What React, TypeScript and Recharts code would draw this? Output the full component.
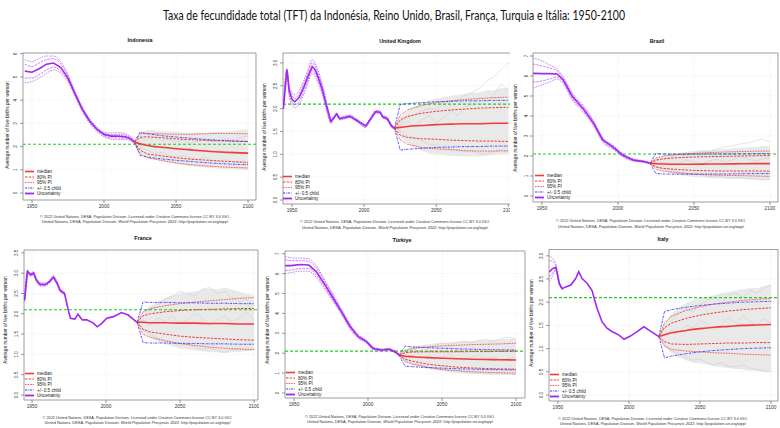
import React from 'react';
import {
  ComposedChart,
  Line,
  Area,
  XAxis,
  YAxis,
  CartesianGrid,
  ReferenceLine,
  ReferenceArea,
  Legend,
} from 'recharts';

// ---- shared axes / years ----
const xTicks = [1950, 2000, 2050, 2100];
const projYears = [2021, 2025, 2030, 2040, 2050, 2060, 2070, 2080, 2090, 2100];
const grayYears = [2021, 2025, 2030, 2035, 2040, 2045, 2050, 2055, 2060, 2065, 2070, 2075, 2080, 2085, 2090, 2095, 2100];
const replacementLevel = 2.1;

const mainTitle =
  'Taxa de fecundidade total (TFT) da Indonésia, Reino Unido, Brasil, França, Turquia e  Itália: 1950-2100';
const yLabel = 'Average number of live births per woman';
const footLine1 =
  '© 2022 United Nations, DESA, Population Division. Licensed under Creative Commons license CC BY 3.0 IGO.';
const footLine2a = 'United Nations, DESA, Population Division. ';
const footLine2b = 'World Population Prospects 2022';
const footLine2c = '. http://population.un.org/wpp/';
const legendLabels = ['median', '80% PI', '95% PI', '+/- 0.5 child', 'Uncertainty'];

// ---- Indonesia ----
const idnHistYears = [1945, 1950, 1955, 1960, 1965, 1970, 1975, 1980, 1985, 1990, 1995, 2000, 2005, 2010, 2015, 2018, 2021];
const idnHistMed = [5.25, 5.2, 5.35, 5.55, 5.6, 5.4, 4.95, 4.25, 3.6, 3.1, 2.75, 2.52, 2.45, 2.45, 2.42, 2.35, 2.2];
const idnBandU95 = [5.75, 5.65, 5.8, 5.9, 5.9, 5.65, 5.1, 4.35, 3.7, 3.2, 2.85, 2.62, 2.58, 2.6, 2.55, 2.45, 2.3];
const idnBandL95 = [4.75, 4.8, 4.95, 5.15, 5.3, 5.15, 4.8, 4.15, 3.5, 3.0, 2.65, 2.42, 2.32, 2.3, 2.3, 2.25, 2.1];
const idnBandU80 = [5.55, 5.45, 5.6, 5.75, 5.78, 5.55, 5.03, 4.3, 3.65, 3.15, 2.8, 2.57, 2.52, 2.53, 2.49, 2.4, 2.25];
const idnBandL80 = [4.95, 4.95, 5.1, 5.3, 5.42, 5.25, 4.87, 4.2, 3.55, 3.05, 2.7, 2.47, 2.38, 2.37, 2.35, 2.3, 2.15];
const idnMed = [2.2, 2.12, 2.05, 1.97, 1.91, 1.86, 1.81, 1.77, 1.74, 1.72];
const idnU80 = [2.2, 2.4, 2.42, 2.38, 2.33, 2.3, 2.27, 2.25, 2.23, 2.22];
const idnL80 = [2.2, 1.85, 1.68, 1.6, 1.52, 1.46, 1.42, 1.38, 1.35, 1.32];
const idnU95 = [2.2, 2.55, 2.57, 2.55, 2.53, 2.53, 2.55, 2.57, 2.56, 2.55];
const idnL95 = [2.2, 1.7, 1.52, 1.4, 1.3, 1.22, 1.17, 1.13, 1.1, 1.08];
const idnHalfUp = [2.2, 2.62, 2.55, 2.47, 2.41, 2.36, 2.31, 2.27, 2.24, 2.22];
const idnHalfLo = [2.2, 1.62, 1.55, 1.47, 1.41, 1.36, 1.31, 1.27, 1.24, 1.22];
const idnCloudLo = [2.2, 1.75, 1.55, 1.45, 1.38, 1.3, 1.25, 1.2, 1.15, 1.12, 1.1, 1.08, 1.05, 1.03, 1.02, 1.0, 1.0];
const idnCloudHi = [2.2, 2.6, 2.7, 2.7, 2.65, 2.65, 2.65, 2.6, 2.6, 2.62, 2.6, 2.62, 2.65, 2.62, 2.68, 2.72, 2.75];
const idnG1 = [2.2, 2.35, 2.3, 2.4, 2.25, 2.3, 2.2, 2.28, 2.15, 2.22, 2.3, 2.2, 2.25, 2.35, 2.28, 2.4, 2.45];
const idnG2 = [2.2, 1.95, 1.85, 1.7, 1.75, 1.6, 1.55, 1.62, 1.5, 1.45, 1.55, 1.42, 1.38, 1.45, 1.3, 1.35, 1.25];
const idnG3 = [2.2, 2.05, 2.1, 1.95, 2.0, 1.9, 1.98, 1.85, 1.9, 1.8, 1.85, 1.75, 1.82, 1.7, 1.78, 1.68, 1.7];

// ---- United Kingdom ----
const gbrHistYears = [1944, 1946.5, 1948, 1950, 1952, 1955, 1958, 1961, 1964, 1966, 1968, 1971, 1974, 1977, 1979, 1981, 1983, 1986, 1990, 1995, 2001, 2004, 2008, 2011, 2013, 2016, 2019, 2021];
const gbrHistMed = [2.0, 2.85, 2.4, 2.2, 2.15, 2.25, 2.45, 2.7, 2.92, 2.85, 2.7, 2.42, 2.05, 1.72, 1.8, 1.88, 1.78, 1.8, 1.83, 1.74, 1.62, 1.75, 1.93, 1.92, 1.82, 1.78, 1.62, 1.57];
const gbrBandU95 = [2.0, 2.88, 2.52, 2.35, 2.3, 2.4, 2.6, 2.85, 3.07, 3.0, 2.84, 2.55, 2.15, 1.76, 1.83, 1.91, 1.81, 1.83, 1.86, 1.77, 1.65, 1.78, 1.96, 1.95, 1.85, 1.81, 1.65, 1.59];
const gbrBandL95 = [2.0, 2.82, 2.28, 2.08, 2.02, 2.1, 2.3, 2.55, 2.78, 2.7, 2.56, 2.3, 1.95, 1.68, 1.77, 1.85, 1.75, 1.77, 1.8, 1.71, 1.59, 1.72, 1.9, 1.89, 1.79, 1.75, 1.59, 1.55];
const gbrBandU80 = [2.0, 2.86, 2.46, 2.28, 2.22, 2.33, 2.53, 2.78, 3.0, 2.93, 2.77, 2.49, 2.1, 1.74, 1.82, 1.9, 1.8, 1.82, 1.85, 1.76, 1.64, 1.77, 1.95, 1.94, 1.84, 1.8, 1.64, 1.58];
const gbrBandL80 = [2.0, 2.84, 2.34, 2.14, 2.08, 2.17, 2.37, 2.62, 2.85, 2.77, 2.63, 2.36, 2.0, 1.7, 1.78, 1.86, 1.76, 1.78, 1.81, 1.72, 1.6, 1.73, 1.91, 1.9, 1.8, 1.76, 1.6, 1.56];
const gbrMed = [1.57, 1.59, 1.61, 1.63, 1.65, 1.66, 1.67, 1.67, 1.68, 1.68];
const gbrU80 = [1.57, 1.75, 1.83, 1.9, 1.94, 1.97, 1.99, 2.01, 2.02, 2.03];
const gbrL80 = [1.57, 1.42, 1.37, 1.34, 1.33, 1.31, 1.3, 1.29, 1.29, 1.28];
const gbrU95 = [1.57, 1.85, 1.97, 2.07, 2.13, 2.17, 2.2, 2.22, 2.24, 2.25];
const gbrL95 = [1.57, 1.32, 1.22, 1.15, 1.12, 1.1, 1.08, 1.07, 1.07, 1.08];
const gbrHalfUp = [1.57, 2.09, 2.11, 2.13, 2.15, 2.16, 2.17, 2.17, 2.18, 2.18];
const gbrHalfLo = [1.57, 1.09, 1.11, 1.13, 1.15, 1.16, 1.17, 1.17, 1.18, 1.18];
const gbrCloudLo = [1.57, 1.4, 1.25, 1.15, 1.08, 1.02, 1.0, 0.98, 0.97, 0.96, 0.95, 0.96, 0.95, 0.97, 0.98, 1.0, 1.0];
const gbrCloudHi = [1.57, 1.8, 1.95, 2.05, 2.12, 2.18, 2.22, 2.25, 2.28, 2.3, 2.32, 2.35, 2.35, 2.4, 2.4, 2.45, 2.45];
const gbrG1 = [1.57, 1.7, 1.8, 1.85, 1.95, 2.0, 1.98, 2.1, 2.15, 2.2, 2.3, 2.35, 2.45, 2.6, 2.7, 2.85, 3.0];
const gbrG2 = [1.57, 1.5, 1.4, 1.35, 1.3, 1.22, 1.2, 1.15, 1.12, 1.1, 1.05, 1.08, 1.02, 1.0, 1.05, 1.1, 1.05];
const gbrG3 = [1.57, 1.65, 1.72, 1.6, 1.75, 1.85, 1.7, 1.8, 1.95, 1.85, 2.05, 2.1, 2.25, 2.15, 2.3, 2.55, 2.4];

// ---- Brazil ----
const braHistYears = [1944, 1950, 1955, 1960, 1964, 1970, 1977, 1984, 1990, 1997, 2003, 2010, 2017, 2021];
const braHistMed = [6.13, 6.12, 6.12, 6.1, 5.8, 4.97, 4.38, 3.63, 2.8, 2.43, 2.05, 1.8, 1.72, 1.64];
const braBandU95 = [6.9, 6.75, 6.55, 6.35, 5.95, 5.15, 4.55, 3.75, 2.92, 2.53, 2.13, 1.86, 1.76, 1.67];
const braBandL95 = [5.4, 5.55, 5.7, 5.85, 5.6, 4.8, 4.2, 3.5, 2.7, 2.33, 1.97, 1.74, 1.68, 1.61];
const braBandU80 = [6.6, 6.5, 6.4, 6.25, 5.88, 5.07, 4.47, 3.7, 2.87, 2.49, 2.1, 1.83, 1.74, 1.66];
const braBandL80 = [5.7, 5.75, 5.85, 5.95, 5.7, 4.87, 4.28, 3.56, 2.74, 2.37, 2.0, 1.77, 1.7, 1.62];
const braMed = [1.64, 1.62, 1.6, 1.59, 1.59, 1.6, 1.6, 1.61, 1.62, 1.62];
const braU80 = [1.64, 1.8, 1.86, 1.92, 1.95, 1.97, 1.98, 2.0, 2.01, 2.02];
const braL80 = [1.64, 1.45, 1.38, 1.32, 1.28, 1.26, 1.25, 1.25, 1.25, 1.24];
const braU95 = [1.64, 1.9, 2.0, 2.08, 2.13, 2.17, 2.2, 2.22, 2.24, 2.25];
const braL95 = [1.64, 1.35, 1.24, 1.16, 1.1, 1.06, 1.03, 1.02, 1.0, 0.98];
const braHalfUp = [1.64, 2.12, 2.1, 2.09, 2.09, 2.1, 2.1, 2.11, 2.12, 2.12];
const braHalfLo = [1.64, 1.12, 1.1, 1.09, 1.09, 1.1, 1.1, 1.11, 1.12, 1.12];
const braCloudLo = [1.64, 1.4, 1.25, 1.15, 1.05, 1.0, 0.95, 0.92, 0.9, 0.88, 0.87, 0.85, 0.85, 0.84, 0.82, 0.8, 0.8];
const braCloudHi = [1.64, 1.9, 2.0, 2.1, 2.15, 2.2, 2.25, 2.28, 2.3, 2.32, 2.35, 2.38, 2.4, 2.42, 2.45, 2.5, 2.5];
const braG1 = [1.64, 1.75, 1.85, 1.95, 2.05, 2.0, 2.15, 2.25, 2.2, 2.35, 2.45, 2.5, 2.6, 2.65, 2.75, 2.85, 2.7];
const braG2 = [1.64, 1.45, 1.35, 1.3, 1.2, 1.15, 1.1, 1.05, 0.98, 1.0, 0.95, 0.9, 0.92, 0.88, 0.85, 0.8, 0.82];
const braG3 = [1.64, 1.6, 1.7, 1.55, 1.65, 1.8, 1.7, 1.6, 1.75, 1.85, 1.7, 1.8, 1.95, 1.9, 1.75, 1.85, 1.9];

// ---- France ----
const fraHistYears = [1945, 1947, 1949, 1951, 1953, 1955.5, 1959, 1962, 1964.5, 1967, 1969, 1972, 1974.5, 1976, 1979, 1981, 1984, 1987, 1991.5, 1994, 1997, 2000.5, 2005, 2010.5, 2015, 2021];
const fraHistMed = [2.34, 3.04, 2.96, 3.0, 2.83, 2.72, 2.72, 2.8, 2.9, 2.75, 2.58, 2.5, 2.09, 1.89, 1.87, 1.99, 1.85, 1.85, 1.77, 1.68, 1.76, 1.89, 1.93, 2.03, 1.97, 1.79];
const fraBandYears = [1945, 1947, 1949, 1951, 1953, 1955.5, 1959, 1962, 1964.5, 1967, 1969, 1972];
const fraBandU95 = [2.45, 3.08, 3.0, 3.04, 2.87, 2.76, 2.76, 2.84, 2.94, 2.79, 2.62, 2.53];
const fraBandL95 = [2.3, 3.0, 2.92, 2.96, 2.79, 2.68, 2.68, 2.76, 2.86, 2.71, 2.54, 2.47];
const fraBandU80 = [2.4, 3.06, 2.98, 3.02, 2.85, 2.74, 2.74, 2.82, 2.92, 2.77, 2.6, 2.52];
const fraBandL80 = [2.32, 3.02, 2.94, 2.98, 2.81, 2.7, 2.7, 2.78, 2.88, 2.73, 2.56, 2.48];
const fraMed = [1.79, 1.79, 1.78, 1.78, 1.77, 1.77, 1.76, 1.76, 1.75, 1.75];
const fraU80 = [1.79, 1.95, 2.0, 2.05, 2.08, 2.1, 2.11, 2.12, 2.13, 2.13];
const fraL80 = [1.79, 1.62, 1.55, 1.5, 1.45, 1.42, 1.4, 1.38, 1.36, 1.35];
const fraU95 = [1.79, 2.05, 2.13, 2.2, 2.25, 2.29, 2.32, 2.35, 2.38, 2.4];
const fraL95 = [1.79, 1.5, 1.42, 1.33, 1.27, 1.22, 1.18, 1.15, 1.13, 1.12];
const fraHalfUp = [1.79, 2.29, 2.28, 2.28, 2.27, 2.27, 2.26, 2.26, 2.25, 2.25];
const fraHalfLo = [1.79, 1.29, 1.28, 1.28, 1.27, 1.27, 1.26, 1.26, 1.25, 1.25];
const fraCloudLo = [1.79, 1.55, 1.42, 1.32, 1.25, 1.2, 1.15, 1.12, 1.1, 1.08, 1.05, 1.05, 1.03, 1.05, 1.06, 1.08, 1.1];
const fraCloudHi = [1.79, 2.05, 2.2, 2.3, 2.4, 2.45, 2.5, 2.52, 2.55, 2.6, 2.62, 2.6, 2.65, 2.6, 2.55, 2.5, 2.45];
const fraG1 = [1.79, 1.95, 2.1, 2.2, 2.35, 2.45, 2.55, 2.5, 2.45, 2.6, 2.65, 2.5, 2.55, 2.4, 2.3, 2.35, 2.2];
const fraG2 = [1.79, 1.6, 1.5, 1.4, 1.35, 1.3, 1.22, 1.25, 1.18, 1.12, 1.15, 1.1, 1.05, 1.12, 1.15, 1.1, 1.12];
const fraG3 = [1.79, 1.85, 1.7, 1.9, 1.8, 1.95, 1.75, 1.85, 2.0, 1.9, 1.7, 1.85, 1.95, 1.8, 1.9, 2.05, 1.85];

// ---- Türkiye ----
const turHistYears = [1944, 1948, 1954, 1960, 1965, 1971, 1976.5, 1982, 1988, 1993.5, 1999, 2003.5, 2009.5, 2014, 2017.5, 2019.8, 2021];
const turHistMed = [6.4, 6.4, 6.46, 6.43, 6.1, 5.43, 4.76, 4.09, 3.33, 2.83, 2.58, 2.24, 2.16, 2.2, 2.1, 1.99, 1.9];
const turBandU95 = [6.85, 6.8, 6.78, 6.75, 6.4, 5.65, 4.95, 4.22, 3.45, 2.92, 2.65, 2.3, 2.21, 2.25, 2.15, 2.04, 1.94];
const turBandL95 = [6.0, 6.05, 6.12, 6.12, 5.8, 5.2, 4.58, 3.96, 3.2, 2.74, 2.51, 2.18, 2.11, 2.15, 2.05, 1.94, 1.86];
const turBandU80 = [6.7, 6.65, 6.65, 6.62, 6.28, 5.56, 4.88, 4.17, 3.4, 2.88, 2.62, 2.27, 2.19, 2.23, 2.13, 2.02, 1.92];
const turBandL80 = [6.15, 6.18, 6.25, 6.25, 5.92, 5.3, 4.65, 4.01, 3.26, 2.78, 2.54, 2.21, 2.13, 2.17, 2.07, 1.96, 1.88];
const turMed = [1.9, 1.85, 1.82, 1.78, 1.75, 1.72, 1.7, 1.68, 1.67, 1.66];
const turU80 = [1.9, 2.02, 2.06, 2.07, 2.07, 2.07, 2.08, 2.08, 2.09, 2.1];
const turL80 = [1.9, 1.7, 1.6, 1.45, 1.37, 1.3, 1.26, 1.23, 1.21, 1.2];
const turU95 = [1.9, 2.15, 2.25, 2.32, 2.37, 2.4, 2.43, 2.45, 2.47, 2.5];
const turL95 = [1.9, 1.58, 1.45, 1.3, 1.18, 1.12, 1.07, 1.04, 1.02, 1.0];
const turHalfUp = [1.9, 2.35, 2.32, 2.28, 2.25, 2.22, 2.2, 2.18, 2.17, 2.16];
const turHalfLo = [1.9, 1.35, 1.32, 1.28, 1.25, 1.22, 1.2, 1.18, 1.17, 1.16];
const turCloudLo = [1.9, 1.6, 1.45, 1.32, 1.22, 1.15, 1.1, 1.05, 1.0, 0.98, 0.95, 0.95, 0.92, 0.92, 0.9, 0.9, 0.9];
const turCloudHi = [1.9, 2.15, 2.3, 2.4, 2.45, 2.5, 2.52, 2.55, 2.58, 2.6, 2.62, 2.65, 2.65, 2.68, 2.7, 2.72, 2.75];
const turG1 = [1.9, 2.05, 2.2, 2.3, 2.25, 2.4, 2.5, 2.45, 2.55, 2.6, 2.5, 2.65, 2.7, 2.6, 2.75, 2.8, 2.7];
const turG2 = [1.9, 1.65, 1.5, 1.4, 1.3, 1.25, 1.2, 1.1, 1.15, 1.05, 1.0, 1.02, 0.98, 0.95, 1.0, 0.95, 0.92];
const turG3 = [1.9, 1.8, 1.9, 1.75, 1.85, 1.7, 1.8, 1.95, 1.75, 1.65, 1.8, 1.9, 1.7, 1.85, 1.6, 1.75, 1.8];

// ---- Italy ----
const itaHistYears = [1944, 1946, 1948.5, 1951, 1953, 1955.5, 1959, 1962.5, 1964.6, 1967, 1970.5, 1974, 1977.5, 1981, 1984.5, 1988, 1993, 1996.5, 2001, 2006, 2010.5, 2014, 2017.5, 2021];
const itaHistMed = [2.65, 2.72, 2.75, 2.4, 2.29, 2.33, 2.37, 2.51, 2.66, 2.51, 2.41, 2.25, 1.87, 1.58, 1.44, 1.37, 1.29, 1.2, 1.27, 1.37, 1.47, 1.4, 1.33, 1.26];
const itaBandYears = [1944, 1946, 1948.5, 1951, 1953];
const itaBandU95 = [3.0, 2.95, 2.82, 2.43, 2.31];
const itaBandL95 = [2.45, 2.55, 2.68, 2.37, 2.27];
const itaBandU80 = [2.9, 2.88, 2.79, 2.42, 2.3];
const itaBandL80 = [2.55, 2.62, 2.71, 2.38, 2.28];
const itaMed = [1.26, 1.3, 1.34, 1.39, 1.43, 1.46, 1.48, 1.5, 1.51, 1.52];
const itaU80 = [1.26, 1.45, 1.55, 1.65, 1.72, 1.77, 1.81, 1.84, 1.86, 1.88];
const itaL80 = [1.26, 1.15, 1.1, 1.09, 1.1, 1.11, 1.12, 1.12, 1.13, 1.13];
const itaU95 = [1.26, 1.55, 1.7, 1.82, 1.9, 1.96, 2.0, 2.04, 2.06, 2.08];
const itaL95 = [1.26, 1.05, 0.98, 0.95, 0.93, 0.91, 0.9, 0.88, 0.87, 0.86];
const itaHalfUp = [1.26, 1.8, 1.84, 1.89, 1.93, 1.96, 1.98, 2.0, 2.01, 2.02];
const itaHalfLo = [1.26, 0.8, 0.84, 0.89, 0.93, 0.96, 0.98, 1.0, 1.01, 1.02];
const itaCloudLo = [1.26, 1.05, 0.9, 0.82, 0.75, 0.7, 0.68, 0.65, 0.62, 0.6, 0.58, 0.56, 0.55, 0.53, 0.52, 0.5, 0.5];
const itaCloudHi = [1.26, 1.55, 1.75, 1.88, 1.98, 2.05, 2.1, 2.12, 2.15, 2.2, 2.22, 2.25, 2.28, 2.3, 2.3, 2.35, 2.38];
const itaG1 = [1.26, 1.45, 1.6, 1.75, 1.85, 1.8, 1.95, 2.05, 2.1, 2.0, 2.15, 2.2, 2.1, 2.25, 2.2, 2.3, 2.38];
const itaG2 = [1.26, 1.1, 0.95, 0.9, 0.8, 0.75, 0.78, 0.7, 0.65, 0.7, 0.62, 0.6, 0.65, 0.58, 0.55, 0.52, 0.5];
const itaG3 = [1.26, 1.3, 1.4, 1.35, 1.5, 1.45, 1.6, 1.55, 1.4, 1.5, 1.65, 1.55, 1.7, 1.6, 1.5, 1.65, 1.55];

// ---- styling ----
const FONT = '"Liberation Sans", Arial, sans-serif';
const RED = '#f23c3c';
const BLUE = '#3a3aff';
const PURPLE = '#a228f0';
const PURPLE_LIGHT = '#b964f5';
const GREEN = '#22cc22';
const GRAY = '#c8c8c8';

const legendStyles = [
  { color: RED, dash: undefined, width: 1.6 },
  { color: RED, dash: '2.5 1.2', width: 1 },
  { color: RED, dash: '0.8 0.8', width: 1 },
  { color: BLUE, dash: '2.2 0.9 0.7 0.9', width: 1 },
  { color: PURPLE, dash: undefined, width: 1.8 },
];

type Row = { year: number; v: number | number[] };
const rows = (years: number[], values: number[]): Row[] =>
  years.map((year, i) => ({ year, v: values[i] }));
const rangeRows = (years: number[], lo: number[], hi: number[]): Row[] =>
  years.map((year, i) => ({ year, v: [lo[i], hi[i]] }));

interface Series {
  histYears: number[];
  histMed: number[];
  bandYears: number[];
  bandU95: number[];
  bandL95: number[];
  bandU80: number[];
  bandL80: number[];
  med: number[];
  u80: number[];
  l80: number[];
  u95: number[];
  l95: number[];
  halfUp: number[];
  halfLo: number[];
  cloudLo: number[];
  cloudHi: number[];
  gray: number[][];
}

interface PanelCfg {
  title: string;
  frame: { left: number; top: number; width: number; height: number };
  box: { x0: number; y0: number; x1: number; y1: number };
  xDomain: [number, number];
  yDomain: [number, number];
  yTicks: number[];
  decimals: number;
  titleX: number;
  titleY: number;
  yLabelX: number;
  yLabelY: number;
  footX: number;
  footY: [number, number];
  legendX: number;
  legendY: number;
  s: Series;
}

const panels: PanelCfg[] = [
  {
    title: 'Indonesia',
    frame: { left: 0, top: 30, width: 258, height: 200 },
    box: { x0: 23, y0: 53, x1: 256, y1: 200 },
    xDomain: [1943.75, 2105.5],
    yDomain: [-0.3, 6.03],
    yTicks: [0, 1, 2, 3, 4, 5, 6],
    decimals: 0,
    titleX: 140, titleY: 42,
    yLabelX: 8.5, yLabelY: 125,
    footX: 135, footY: [218, 223.2],
    legendX: 25, legendY: 171.7,
    s: {
      histYears: idnHistYears, histMed: idnHistMed,
      bandYears: idnHistYears, bandU95: idnBandU95, bandL95: idnBandL95, bandU80: idnBandU80, bandL80: idnBandL80,
      med: idnMed, u80: idnU80, l80: idnL80, u95: idnU95, l95: idnL95, halfUp: idnHalfUp, halfLo: idnHalfLo,
      cloudLo: idnCloudLo, cloudHi: idnCloudHi, gray: [idnG1, idnG2, idnG3],
    },
  },
  {
    title: 'United Kingdom',
    frame: { left: 258, top: 30, width: 262, height: 200 },
    box: { x0: 283, y0: 53, x1: 517, y1: 204 },
    xDomain: [1943.75, 2106],
    yDomain: [-0.0875, 3.217],
    yTicks: [0, 0.5, 1, 1.5, 2, 2.5, 3],
    decimals: 1,
    titleX: 400, titleY: 43,
    yLabelX: 266, yLabelY: 127,
    footX: 395, footY: [223, 228.8],
    legendX: 283, legendY: 176.7,
    s: {
      histYears: gbrHistYears, histMed: gbrHistMed,
      bandYears: gbrHistYears, bandU95: gbrBandU95, bandL95: gbrBandL95, bandU80: gbrBandU80, bandL80: gbrBandL80,
      med: gbrMed, u80: gbrU80, l80: gbrL80, u95: gbrU95, l95: gbrL95, halfUp: gbrHalfUp, halfLo: gbrHalfLo,
      cloudLo: gbrCloudLo, cloudHi: gbrCloudHi, gray: [gbrG1, gbrG2, gbrG3],
    },
  },
  {
    title: 'Brazil',
    frame: { left: 510, top: 30, width: 270, height: 200 },
    box: { x0: 533, y0: 53, x1: 778, y1: 202 },
    xDomain: [1944.1, 2105.3],
    yDomain: [-0.3, 7.15],
    yTicks: [0, 1, 2, 3, 4, 5, 6, 7],
    decimals: 0,
    titleX: 657, titleY: 43,
    yLabelX: 516.5, yLabelY: 128,
    footX: 651, footY: [222, 227.8],
    legendX: 535, legendY: 175,
    s: {
      histYears: braHistYears, histMed: braHistMed,
      bandYears: braHistYears, bandU95: braBandU95, bandL95: braBandL95, bandU80: braBandU80, bandL80: braBandL80,
      med: braMed, u80: braU80, l80: braL80, u95: braU95, l95: braL95, halfUp: braHalfUp, halfLo: braHalfLo,
      cloudLo: braCloudLo, cloudHi: braCloudHi, gray: [braG1, braG2, braG3],
    },
  },
  {
    title: 'France',
    frame: { left: 0, top: 230, width: 259, height: 198 },
    box: { x0: 24, y0: 250, x1: 258, y1: 400 },
    xDomain: [1944.6, 2102.7],
    yDomain: [-0.123, 3.571],
    yTicks: [0, 0.5, 1, 1.5, 2, 2.5, 3, 3.5],
    decimals: 1,
    titleX: 143, titleY: 240,
    yLabelX: 7, yLabelY: 320,
    footX: 137.5, footY: [419, 423.8],
    legendX: 25, legendY: 373,
    s: {
      histYears: fraHistYears, histMed: fraHistMed,
      bandYears: fraBandYears, bandU95: fraBandU95, bandL95: fraBandL95, bandU80: fraBandU80, bandL80: fraBandL80,
      med: fraMed, u80: fraU80, l80: fraL80, u95: fraU95, l95: fraL95, halfUp: fraHalfUp, halfLo: fraHalfLo,
      cloudLo: fraCloudLo, cloudHi: fraCloudHi, gray: [fraG1, fraG2, fraG3],
    },
  },
  {
    title: 'Türkiye',
    frame: { left: 259, top: 230, width: 268, height: 198 },
    box: { x0: 285, y0: 251, x1: 525, y1: 398 },
    xDomain: [1943.9, 2106.1],
    yDomain: [-0.251, 7.136],
    yTicks: [0, 1, 2, 3, 4, 5, 6, 7],
    decimals: 0,
    titleX: 402, titleY: 242,
    yLabelX: 268.5, yLabelY: 320,
    footX: 400, footY: [418, 422.8],
    legendX: 286, legendY: 372,
    s: {
      histYears: turHistYears, histMed: turHistMed,
      bandYears: turHistYears, bandU95: turBandU95, bandL95: turBandL95, bandU80: turBandU80, bandL80: turBandL80,
      med: turMed, u80: turU80, l80: turL80, u95: turU95, l95: turL95, halfUp: turHalfUp, halfLo: turHalfLo,
      cloudLo: turCloudLo, cloudHi: turCloudHi, gray: [turG1, turG2, turG3],
    },
  },
  {
    title: 'Italy',
    frame: { left: 527, top: 230, width: 253, height: 198 },
    box: { x0: 549, y0: 249.5, x1: 778, y1: 401 },
    xDomain: [1943.7, 2104.9],
    yDomain: [-0.129, 3.136],
    yTicks: [0, 0.5, 1, 1.5, 2, 2.5, 3],
    decimals: 1,
    titleX: 663, titleY: 241,
    yLabelX: 533.4, yLabelY: 323,
    footX: 653, footY: [420, 424.5],
    legendX: 550, legendY: 374,
    s: {
      histYears: itaHistYears, histMed: itaHistMed,
      bandYears: itaBandYears, bandU95: itaBandU95, bandL95: itaBandL95, bandU80: itaBandU80, bandL80: itaBandL80,
      med: itaMed, u80: itaU80, l80: itaL80, u95: itaU95, l95: itaL95, halfUp: itaHalfUp, halfLo: itaHalfLo,
      cloudLo: itaCloudLo, cloudHi: itaCloudHi, gray: [itaG1, itaG2, itaG3],
    },
  },
];

const FanLegend = () => (
  <svg width={60} height={30} style={{ display: 'block', overflow: 'visible' }}>
    {legendLabels.map((label, i) => {
      const st = legendStyles[i];
      const y = 2.5 + i * 5.5;
      return (
        <g key={label}>
          <line x1={0} x2={9} y1={y} y2={y} stroke={st.color} strokeWidth={st.width} strokeDasharray={st.dash} />
          <text x={12} y={y + 1.6} fontSize={4.6} fill="#222" fontFamily={FONT}>
            {label}
          </text>
        </g>
      );
    })}
  </svg>
);

const makeYTick = (decimals: number) => (props: any) => {
  const { x, y, payload } = props;
  const tx = x - 0.5;
  return (
    <text
      x={tx}
      y={y}
      transform={`rotate(-90 ${tx} ${y})`}
      textAnchor="middle"
      fontSize={4.6}
      fill="#333"
      fontFamily={FONT}
    >
      {Number(payload.value).toFixed(decimals)}
    </text>
  );
};

const Panel = ({ cfg }: { cfg: PanelCfg }) => {
  const { frame, box, s } = cfg;
  const margin = {
    top: box.y0 - frame.top,
    right: frame.left + frame.width - box.x1,
    bottom: 0,
    left: 0,
  };
  const yAxisWidth = box.x0 - frame.left;
  const xAxisHeight = frame.top + frame.height - box.y1;
  const fx = (v: number) => v - frame.left;
  const fy = (v: number) => v - frame.top;

  const thin = { dot: false as const, isAnimationActive: false, dataKey: 'v' };

  return (
    <div
      style={{
        position: 'absolute',
        left: frame.left,
        top: frame.top,
        width: frame.width,
        height: frame.height,
        background: '#fff',
        overflow: 'hidden',
      }}
    >
      <ComposedChart width={frame.width} height={frame.height} margin={margin}>
        <CartesianGrid stroke="#e6e6e6" strokeDasharray="1 1" strokeWidth={0.6} />
        <XAxis
          type="number"
          dataKey="year"
          domain={cfg.xDomain}
          ticks={xTicks}
          interval={0}
          allowDataOverflow
          height={xAxisHeight}
          axisLine={false}
          tickSize={3}
          tickLine={{ stroke: '#555', strokeWidth: 0.6 }}
          tick={{ fontSize: 4.8, fill: '#333', fontFamily: FONT }}
        />
        <YAxis
          type="number"
          domain={cfg.yDomain}
          ticks={cfg.yTicks}
          interval={0}
          allowDataOverflow
          width={yAxisWidth}
          axisLine={false}
          tickSize={3}
          tickLine={{ stroke: '#555', strokeWidth: 0.6 }}
          tick={makeYTick(cfg.decimals)}
        />

        {/* nuvem de trajetórias simuladas */}
        <Area
          data={rangeRows(grayYears, s.cloudLo, s.cloudHi)}
          dataKey="v"
          fill="#e9e9e9"
          fillOpacity={1}
          stroke="none"
          isAnimationActive={false}
        />
        {s.gray.map((g, i) => (
          <Line key={`g${i}`} data={rows(grayYears, g)} {...thin} stroke={GRAY} strokeWidth={0.5} />
        ))}

        <ReferenceLine y={replacementLevel} stroke={GREEN} strokeDasharray="3 2" strokeWidth={1.2} />

        <Line data={rows(projYears, s.u95)} {...thin} stroke={RED} strokeWidth={1} strokeDasharray="0.8 0.8" />
        <Line data={rows(projYears, s.l95)} {...thin} stroke={RED} strokeWidth={1} strokeDasharray="0.8 0.8" />
        <Line data={rows(projYears, s.u80)} {...thin} stroke={RED} strokeWidth={1} strokeDasharray="2.5 1.2" />
        <Line data={rows(projYears, s.l80)} {...thin} stroke={RED} strokeWidth={1} strokeDasharray="2.5 1.2" />
        <Line data={rows(projYears, s.halfUp)} {...thin} stroke={BLUE} strokeWidth={0.9} strokeDasharray="2.2 0.9 0.7 0.9" />
        <Line data={rows(projYears, s.halfLo)} {...thin} stroke={BLUE} strokeWidth={0.9} strokeDasharray="2.2 0.9 0.7 0.9" />
        <Line data={rows(projYears, s.med)} {...thin} type="monotone" stroke={RED} strokeWidth={1.6} />

        {/* período de estimativas */}
        <Line data={rows(s.bandYears, s.bandU95)} {...thin} type="monotone" stroke={PURPLE_LIGHT} strokeWidth={0.8} strokeDasharray="1.6 1" />
        <Line data={rows(s.bandYears, s.bandL95)} {...thin} type="monotone" stroke={PURPLE_LIGHT} strokeWidth={0.8} strokeDasharray="1.6 1" />
        <Line data={rows(s.bandYears, s.bandU80)} {...thin} type="monotone" stroke={PURPLE_LIGHT} strokeWidth={0.8} strokeDasharray="2.5 1" />
        <Line data={rows(s.bandYears, s.bandL80)} {...thin} type="monotone" stroke={PURPLE_LIGHT} strokeWidth={0.8} strokeDasharray="2.5 1" />
        <Line data={rows(s.histYears, s.histMed)} {...thin} stroke={PURPLE} strokeWidth={1.6} />

        <ReferenceArea
          x1={cfg.xDomain[0]}
          x2={cfg.xDomain[1]}
          y1={cfg.yDomain[0]}
          y2={cfg.yDomain[1]}
          fill="none"
          stroke="#8c8c8c"
          strokeWidth={0.8}
          ifOverflow="visible"
        />

        <Legend
          content={() => <FanLegend />}
          layout="vertical"
          align="center"
          verticalAlign="middle"
          wrapperStyle={{ left: fx(cfg.legendX), top: fy(cfg.legendY) - 2.5, width: 60, height: 30, lineHeight: 0 }}
        />
      </ComposedChart>

      <svg
        width={frame.width}
        height={frame.height}
        style={{ position: 'absolute', left: 0, top: 0, pointerEvents: 'none' }}
        fontFamily={FONT}
      >
        <text x={fx(cfg.titleX)} y={fy(cfg.titleY)} textAnchor="middle" fontSize={5.4} fontWeight="bold" fill="#111">
          {cfg.title}
        </text>
        <text
          x={fx(cfg.yLabelX)}
          y={fy(cfg.yLabelY)}
          transform={`rotate(-90 ${fx(cfg.yLabelX)} ${fy(cfg.yLabelY)})`}
          textAnchor="middle"
          fontSize={4.8}
          fill="#222"
        >
          {yLabel}
        </text>
        <text
          x={fx(cfg.footX)}
          y={fy(cfg.footY[0])}
          textAnchor="middle"
          fontSize={4}
          fill="#333"
          textLength={190}
          lengthAdjust="spacingAndGlyphs"
        >
          {footLine1}
        </text>
        <text
          x={fx(cfg.footX)}
          y={fy(cfg.footY[1])}
          textAnchor="middle"
          fontSize={4}
          fill="#333"
          textLength={186}
          lengthAdjust="spacingAndGlyphs"
        >
          {footLine2a}
          <tspan fontStyle="italic">{footLine2b}</tspan>
          {footLine2c}
        </text>
      </svg>
    </div>
  );
};

const App = () => (
  <div
    style={{
      position: 'absolute',
      left: 0,
      top: 0,
      width: 780,
      height: 428,
      background: '#fff',
      overflow: 'hidden',
    }}
  >
    <svg width={780} height={30} style={{ position: 'absolute', left: 0, top: 0 }}>
      <text
        x={394}
        y={20}
        textAnchor="middle"
        fontSize={12.5}
        fontFamily='Lato, "Open Sans", sans-serif'
        fill="#111"
        textLength={462}
        lengthAdjust="spacingAndGlyphs"
      >
        {mainTitle}
      </text>
    </svg>
    {panels.map((p) => (
      <Panel key={p.title} cfg={p} />
    ))}
  </div>
);

export default App;
